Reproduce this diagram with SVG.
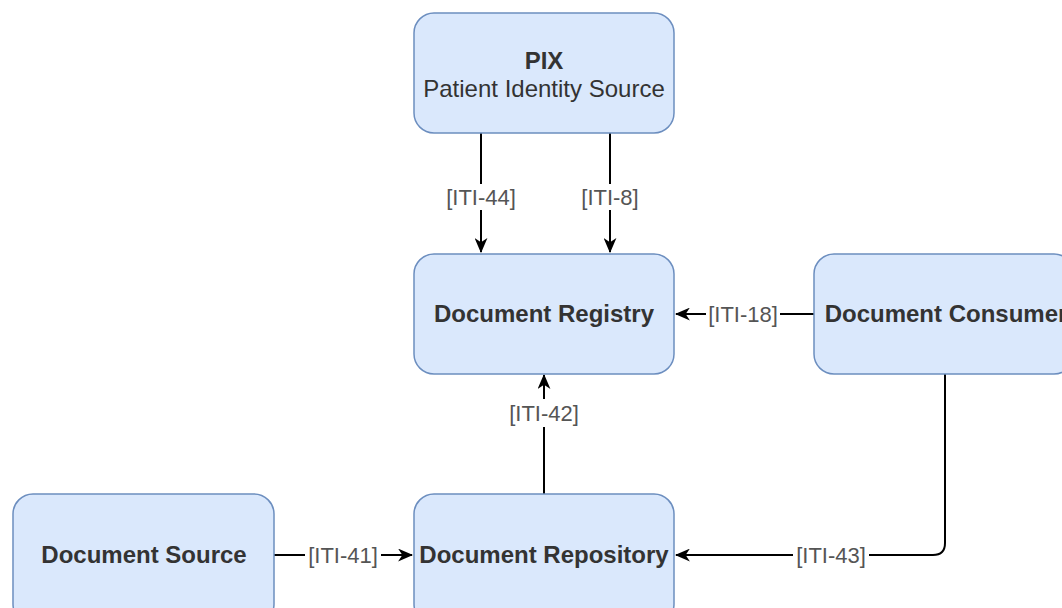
<svg xmlns="http://www.w3.org/2000/svg" width="1062" height="608" viewBox="0 0 1062 608">
<defs>
<marker id="arr" viewBox="0 0 14 12" refX="13" refY="6" markerWidth="15" markerHeight="13" markerUnits="userSpaceOnUse" orient="auto">
<path d="M0,0 L14,6 L0,12 L4,6 z" fill="#000"/>
</marker>
<style>
.node{fill:#dae8fc;stroke:#6c8ebf;stroke-width:1.5}
.nt{font-family:"Liberation Sans",Arial,sans-serif;font-size:24px;font-weight:bold;fill:#333;text-anchor:middle}
.nr{font-family:"Liberation Sans",Arial,sans-serif;font-size:24px;fill:#333;text-anchor:middle}
.edge{fill:none;stroke:#000;stroke-width:2}
.lbl{font-family:"Liberation Sans",Arial,sans-serif;font-size:22px;fill:#555;text-anchor:middle}
.lb{fill:#fff}
</style>
</defs>
<rect width="1062" height="608" fill="#fff"/>
<g id="connectors">
<path class="edge" d="M481,133 V252" marker-end="url(#arr)"/>
<path class="edge" d="M610,133 V252" marker-end="url(#arr)"/>
<path class="edge" d="M814,314 H676" marker-end="url(#arr)"/>
<path class="edge" d="M544,494 V375" marker-end="url(#arr)"/>
<path class="edge" d="M274,555 H412" marker-end="url(#arr)"/>
<path class="edge" d="M945,374 V543 Q945,555 933,555 H676" marker-end="url(#arr)"/>
<rect class="lb" x="442" y="184" width="78" height="26"/>
<text class="lbl" x="481" y="205">[ITI-44]</text>
<rect class="lb" x="578" y="184" width="64" height="26"/>
<text class="lbl" x="610" y="205">[ITI-8]</text>
<rect class="lb" x="706" y="301" width="74" height="26"/>
<text class="lbl" x="743" y="322">[ITI-18]</text>
<rect class="lb" x="505" y="399" width="78" height="28"/>
<text class="lbl" x="544" y="421">[ITI-42]</text>
<rect class="lb" x="305" y="542" width="76" height="26"/>
<text class="lbl" x="343" y="563">[ITI-41]</text>
<rect class="lb" x="793" y="542" width="76" height="26"/>
<text class="lbl" x="831" y="563">[ITI-43]</text>
</g>
<g id="pix">
<rect class="node" x="414" y="13" width="260" height="120" rx="20"/>
<text class="nt" x="544" y="69">PIX</text>
<text class="nr" x="544" y="97">Patient Identity Source</text>
</g>
<g id="registry">
<rect class="node" x="414" y="254" width="260" height="120" rx="20"/>
<text class="nt" x="544" y="322">Document Registry</text>
</g>
<g id="consumer">
<rect class="node" x="814" y="254" width="260" height="120" rx="20"/>
<text class="nt" x="946" y="322">Document Consumer</text>
</g>
<g id="source">
<rect class="node" x="13" y="494" width="261" height="130" rx="20"/>
<text class="nt" x="144" y="563">Document Source</text>
</g>
<g id="repository">
<rect class="node" x="414" y="494" width="260" height="130" rx="20"/>
<text class="nt" x="544" y="563">Document Repository</text>
</g>
</svg>
